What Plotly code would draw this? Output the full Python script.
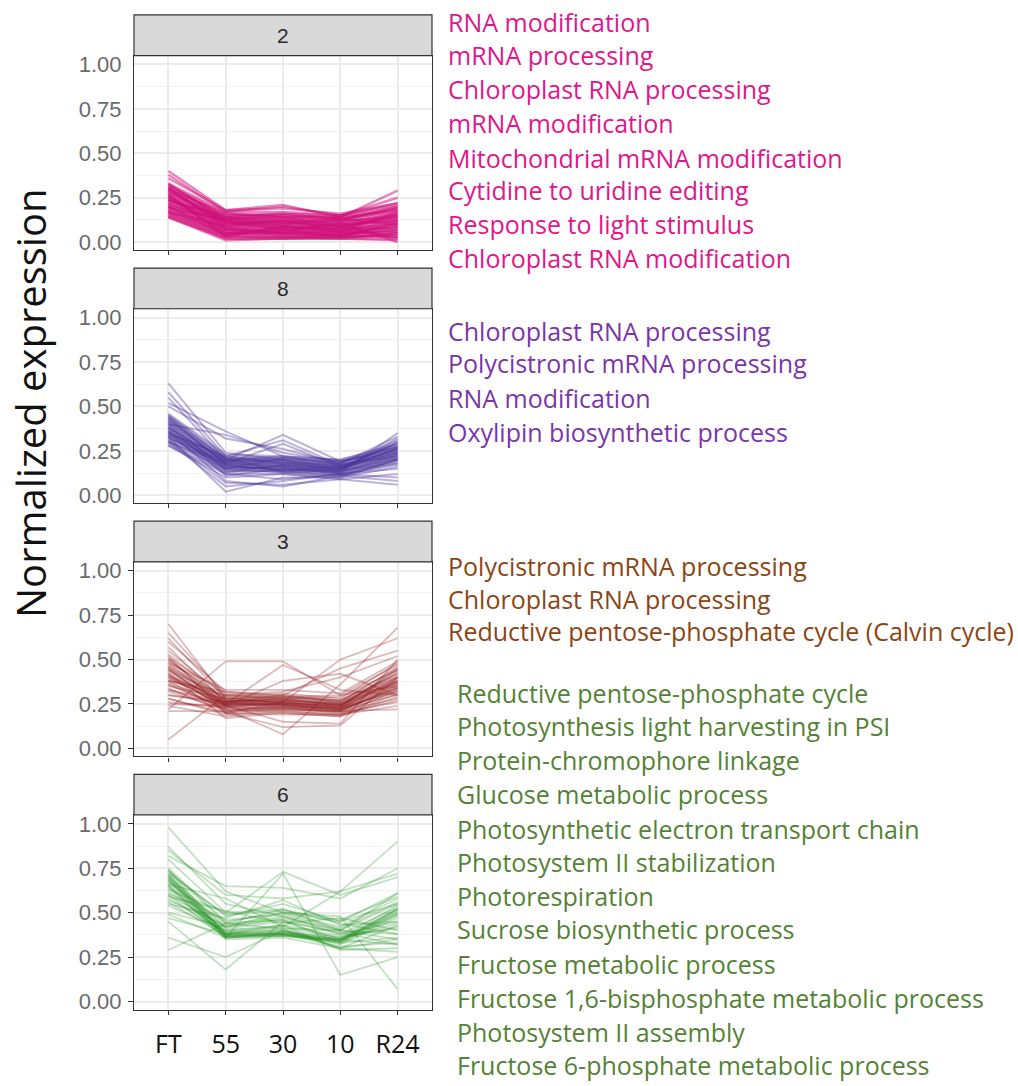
import plotly.graph_objects as go

# ---------------- data ----------------
conditions = ["FT", "55", "30", "10", "R24"]
cluster_ids = ["2", "8", "3", "6"]

cluster2_profiles = [
    [0.40, 0.18, 0.21, 0.14, 0.29], [0.38, 0.17, 0.20, 0.15, 0.25], [0.36, 0.18, 0.19, 0.16, 0.22],
    [0.33, 0.17, 0.17, 0.15, 0.21], [0.32, 0.16, 0.15, 0.14, 0.20], [0.31, 0.15, 0.16, 0.13, 0.19],
    [0.30, 0.16, 0.14, 0.14, 0.18], [0.30, 0.14, 0.13, 0.12, 0.20], [0.29, 0.13, 0.14, 0.13, 0.17],
    [0.28, 0.14, 0.12, 0.11, 0.16], [0.28, 0.12, 0.13, 0.12, 0.18], [0.27, 0.13, 0.11, 0.10, 0.15],
    [0.26, 0.11, 0.12, 0.11, 0.16], [0.26, 0.12, 0.10, 0.09, 0.14], [0.25, 0.10, 0.11, 0.10, 0.13],
    [0.24, 0.11, 0.09, 0.08, 0.15], [0.24, 0.09, 0.10, 0.09, 0.12], [0.23, 0.10, 0.08, 0.08, 0.13],
    [0.22, 0.08, 0.09, 0.07, 0.11], [0.22, 0.09, 0.07, 0.08, 0.10], [0.21, 0.07, 0.08, 0.06, 0.12],
    [0.20, 0.08, 0.06, 0.07, 0.09], [0.20, 0.06, 0.07, 0.05, 0.10], [0.19, 0.07, 0.05, 0.06, 0.08],
    [0.18, 0.05, 0.06, 0.05, 0.07], [0.18, 0.06, 0.04, 0.04, 0.09], [0.17, 0.04, 0.05, 0.05, 0.06],
    [0.17, 0.05, 0.04, 0.03, 0.05], [0.16, 0.03, 0.03, 0.04, 0.07], [0.16, 0.04, 0.03, 0.03, 0.04],
    [0.15, 0.02, 0.02, 0.03, 0.03], [0.15, 0.03, 0.03, 0.02, 0.05], [0.14, 0.02, 0.02, 0.02, 0.02],
    [0.14, 0.01, 0.02, 0.02, 0.01], [0.25, 0.05, 0.06, 0.11, 0.00], [0.31, 0.08, 0.05, 0.04, 0.03],
    [0.19, 0.13, 0.11, 0.13, 0.19], [0.27, 0.03, 0.09, 0.06, 0.17], [0.33, 0.12, 0.07, 0.03, 0.11],
    [0.23, 0.15, 0.14, 0.09, 0.02], [0.29, 0.10, 0.12, 0.07, 0.08], [0.21, 0.12, 0.10, 0.12, 0.14],
    [0.32, 0.14, 0.16, 0.15, 0.22], [0.26, 0.07, 0.05, 0.04, 0.06], [0.20, 0.04, 0.08, 0.10, 0.12],
    [0.30, 0.11, 0.09, 0.06, 0.04], [0.17, 0.09, 0.12, 0.09, 0.15], [0.24, 0.13, 0.15, 0.13, 0.10],
]

cluster8_profiles = [
    [0.63, 0.24, 0.20, 0.16, 0.26], [0.58, 0.22, 0.18, 0.15, 0.30], [0.55, 0.20, 0.22, 0.17, 0.24],
    [0.52, 0.36, 0.22, 0.20, 0.28], [0.50, 0.32, 0.26, 0.18, 0.33], [0.40, 0.34, 0.24, 0.19, 0.25],
    [0.38, 0.20, 0.34, 0.19, 0.27], [0.35, 0.22, 0.31, 0.17, 0.22], [0.42, 0.18, 0.29, 0.16, 0.29],
    [0.33, 0.02, 0.10, 0.10, 0.20], [0.30, 0.05, 0.08, 0.12, 0.15], [0.36, 0.08, 0.05, 0.11, 0.08],
    [0.31, 0.07, 0.06, 0.09, 0.06], [0.34, 0.12, 0.09, 0.12, 0.10], [0.28, 0.10, 0.12, 0.09, 0.12],
    [0.46, 0.23, 0.22, 0.20, 0.29], [0.45, 0.22, 0.21, 0.19, 0.27], [0.44, 0.21, 0.20, 0.18, 0.28],
    [0.43, 0.20, 0.21, 0.19, 0.26], [0.42, 0.21, 0.19, 0.17, 0.25], [0.41, 0.19, 0.20, 0.18, 0.27],
    [0.40, 0.20, 0.18, 0.16, 0.24], [0.39, 0.18, 0.19, 0.17, 0.25], [0.38, 0.19, 0.17, 0.15, 0.23],
    [0.37, 0.17, 0.18, 0.16, 0.24], [0.36, 0.18, 0.16, 0.14, 0.22], [0.35, 0.16, 0.17, 0.15, 0.21],
    [0.34, 0.17, 0.15, 0.13, 0.23], [0.33, 0.15, 0.16, 0.14, 0.20], [0.32, 0.16, 0.14, 0.12, 0.19],
    [0.31, 0.14, 0.15, 0.13, 0.21], [0.30, 0.15, 0.13, 0.11, 0.18], [0.29, 0.13, 0.14, 0.12, 0.17],
    [0.28, 0.12, 0.12, 0.10, 0.16], [0.40, 0.14, 0.13, 0.14, 0.32], [0.37, 0.13, 0.17, 0.13, 0.35],
    [0.44, 0.17, 0.14, 0.15, 0.30], [0.35, 0.21, 0.13, 0.11, 0.20], [0.32, 0.19, 0.20, 0.15, 0.26],
    [0.30, 0.18, 0.16, 0.16, 0.22], [0.39, 0.11, 0.15, 0.14, 0.18], [0.36, 0.15, 0.21, 0.18, 0.31],
    [0.43, 0.18, 0.17, 0.15, 0.24], [0.38, 0.16, 0.15, 0.13, 0.21], [0.34, 0.19, 0.18, 0.17, 0.26],
    [0.41, 0.15, 0.16, 0.12, 0.20], [0.33, 0.17, 0.14, 0.16, 0.23], [0.45, 0.20, 0.19, 0.14, 0.27],
]

cluster3_profiles = [
    [0.70, 0.28, 0.26, 0.23, 0.45], [0.05, 0.30, 0.28, 0.25, 0.38], [0.22, 0.49, 0.49, 0.30, 0.35],
    [0.30, 0.25, 0.47, 0.33, 0.30], [0.36, 0.22, 0.08, 0.36, 0.68], [0.28, 0.20, 0.26, 0.50, 0.62],
    [0.33, 0.26, 0.30, 0.45, 0.55], [0.40, 0.24, 0.15, 0.14, 0.50], [0.45, 0.20, 0.12, 0.13, 0.40],
    [0.25, 0.24, 0.38, 0.42, 0.30], [0.38, 0.30, 0.32, 0.40, 0.52],
    [0.65, 0.30, 0.27, 0.25, 0.42], [0.62, 0.28, 0.29, 0.27, 0.45], [0.60, 0.32, 0.30, 0.26, 0.40],
    [0.57, 0.26, 0.28, 0.24, 0.38], [0.55, 0.29, 0.31, 0.28, 0.48], [0.53, 0.27, 0.26, 0.23, 0.36],
    [0.51, 0.31, 0.28, 0.29, 0.44], [0.50, 0.25, 0.25, 0.22, 0.34], [0.49, 0.28, 0.30, 0.27, 0.42],
    [0.48, 0.24, 0.27, 0.25, 0.39], [0.47, 0.27, 0.24, 0.21, 0.35], [0.46, 0.26, 0.29, 0.26, 0.46],
    [0.45, 0.23, 0.26, 0.24, 0.37], [0.44, 0.29, 0.25, 0.22, 0.33], [0.43, 0.25, 0.28, 0.27, 0.41],
    [0.42, 0.22, 0.23, 0.20, 0.32], [0.41, 0.27, 0.27, 0.25, 0.38], [0.40, 0.24, 0.22, 0.21, 0.36],
    [0.39, 0.26, 0.26, 0.24, 0.43], [0.38, 0.21, 0.24, 0.22, 0.30], [0.37, 0.25, 0.25, 0.23, 0.35],
    [0.36, 0.23, 0.21, 0.19, 0.33], [0.35, 0.28, 0.27, 0.26, 0.40], [0.34, 0.20, 0.23, 0.21, 0.28],
    [0.33, 0.24, 0.24, 0.22, 0.34], [0.32, 0.22, 0.20, 0.18, 0.31], [0.30, 0.26, 0.25, 0.24, 0.37],
    [0.28, 0.19, 0.22, 0.20, 0.26], [0.26, 0.23, 0.23, 0.23, 0.32], [0.24, 0.18, 0.21, 0.19, 0.24],
    [0.21, 0.21, 0.22, 0.21, 0.22], [0.48, 0.33, 0.33, 0.31, 0.49], [0.42, 0.17, 0.20, 0.18, 0.29],
    [0.52, 0.20, 0.19, 0.19, 0.27], [0.38, 0.32, 0.29, 0.30, 0.47], [0.46, 0.25, 0.24, 0.22, 0.40],
    [0.50, 0.27, 0.26, 0.24, 0.44], [0.44, 0.24, 0.25, 0.23, 0.37], [0.41, 0.26, 0.23, 0.21, 0.34],
]

cluster6_profiles = [
    [0.98, 0.62, 0.50, 0.45, 0.55], [0.87, 0.55, 0.48, 0.40, 0.61], [0.85, 0.60, 0.58, 0.62, 0.90],
    [0.82, 0.65, 0.64, 0.58, 0.75], [0.80, 0.50, 0.73, 0.60, 0.70], [0.29, 0.44, 0.52, 0.40, 0.35],
    [0.36, 0.25, 0.40, 0.30, 0.28], [0.45, 0.18, 0.45, 0.35, 0.32], [0.49, 0.36, 0.72, 0.15, 0.25],
    [0.60, 0.42, 0.50, 0.48, 0.07], [0.66, 0.58, 0.42, 0.62, 0.72],
    [0.75, 0.45, 0.50, 0.42, 0.58], [0.74, 0.38, 0.39, 0.35, 0.52], [0.73, 0.48, 0.55, 0.45, 0.61],
    [0.72, 0.37, 0.38, 0.34, 0.51], [0.71, 0.42, 0.47, 0.40, 0.55], [0.70, 0.36, 0.37, 0.33, 0.49],
    [0.69, 0.38, 0.39, 0.35, 0.50], [0.68, 0.37, 0.38, 0.34, 0.50], [0.67, 0.44, 0.46, 0.38, 0.45],
    [0.66, 0.36, 0.38, 0.33, 0.48], [0.65, 0.40, 0.42, 0.36, 0.42], [0.64, 0.37, 0.37, 0.34, 0.52],
    [0.63, 0.50, 0.52, 0.44, 0.38], [0.62, 0.38, 0.40, 0.32, 0.47], [0.61, 0.46, 0.49, 0.41, 0.56],
    [0.60, 0.36, 0.39, 0.35, 0.44], [0.59, 0.51, 0.44, 0.47, 0.40], [0.58, 0.39, 0.41, 0.30, 0.35],
    [0.57, 0.43, 0.48, 0.38, 0.53], [0.56, 0.37, 0.38, 0.31, 0.33], [0.55, 0.47, 0.57, 0.43, 0.45],
    [0.54, 0.40, 0.43, 0.37, 0.41], [0.70, 0.41, 0.45, 0.39, 0.32], [0.72, 0.49, 0.51, 0.46, 0.59],
    [0.65, 0.35, 0.36, 0.30, 0.43], [0.69, 0.39, 0.40, 0.36, 0.54], [0.74, 0.44, 0.41, 0.40, 0.38],
    [0.50, 0.42, 0.46, 0.33, 0.36], [0.47, 0.38, 0.43, 0.29, 0.30], [0.68, 0.36, 0.37, 0.35, 0.52],
    [0.71, 0.38, 0.38, 0.34, 0.49],
]

cluster2_terms = ["RNA modification", "mRNA processing", "Chloroplast RNA processing",
                  "mRNA modification", "Mitochondrial mRNA modification",
                  "Cytidine to uridine editing", "Response to light stimulus",
                  "Chloroplast RNA modification"]
cluster8_terms = ["Chloroplast RNA processing", "Polycistronic mRNA processing",
                  "RNA modification", "Oxylipin biosynthetic process"]
cluster3_terms = ["Polycistronic mRNA processing", "Chloroplast RNA processing",
                  "Reductive pentose-phosphate cycle (Calvin cycle)"]
cluster6_terms = ["Reductive pentose-phosphate cycle", "Photosynthesis light harvesting in PSI",
                  "Protein-chromophore linkage", "Glucose metabolic process",
                  "Photosynthetic electron transport chain", "Photosystem II stabilization",
                  "Photorespiration", "Sucrose biosynthetic process", "Fructose metabolic process",
                  "Fructose 1,6-bisphosphate metabolic process", "Photosystem II assembly",
                  "Fructose 6-phosphate metabolic process"]

y_ticks = [0, 0.25, 0.5, 0.75, 1.0]

# ---------------- styling ----------------
W, H = 1018, 1086
line_colors = ["rgba(208,14,122,0.50)", "rgba(75,55,155,0.38)",
               "rgba(145,28,30,0.30)", "rgba(30,145,30,0.27)"]
line_widths = [2.4, 2.0, 1.8, 1.8]
text_colors = ["#E0168C", "#7A35A8", "#8B4513", "#548235"]
profiles = [cluster2_profiles, cluster8_profiles, cluster3_profiles, cluster6_profiles]
terms = [cluster2_terms, cluster8_terms, cluster3_terms, cluster6_terms]

panel_tops = [53, 308, 563, 818]
panel_h = 196
strip_h = 41
x_left, x_right = 134, 432
TEXT_FONT = "Open Sans"

term_y = [
    [19, 52, 87, 121, 156, 188, 223, 257],
    [330, 363, 398, 432],
    [567, 600, 633],
    [695, 728, 763, 797, 832, 865, 900, 933, 968, 1002, 1037, 1070],
]
term_x = [446, 446, 446, 455]

fig = go.Figure()
layout = dict(
    width=W, height=H,
    margin=dict(l=0, r=0, t=0, b=0),
    paper_bgcolor="white", plot_bgcolor="white",
    showlegend=False,
)
shapes = []
annotations = []

for i in range(4):
    sx = "" if i == 0 else str(i + 1)
    for prof in profiles[i]:
        fig.add_trace(go.Scatter(
            x=conditions, y=prof, mode="lines",
            line=dict(color=line_colors[i], width=line_widths[i]),
            xaxis="x" + sx, yaxis="y" + sx, hoverinfo="skip", showlegend=False))

    top = panel_tops[i]
    bottom = top + panel_h
    ydom = [1 - bottom / H, 1 - top / H]
    xdom = [x_left / W, x_right / W]
    last = (i == 3)
    has_yticks = i >= 2
    layout["xaxis" + sx] = dict(
        domain=xdom, anchor="y" + sx, type="category",
        categoryorder="array", categoryarray=conditions,
        range=[-0.6, 4.6], showgrid=True, gridcolor="#EBEBEB", gridwidth=1.5,
        showline=True, mirror=True, linecolor="#333333", linewidth=1.2,
        ticks="outside", ticklen=4, tickcolor="#333333",
        showticklabels=last, zeroline=False, ticklabelstandoff=8,
        tickfont=dict(family=TEXT_FONT, size=25, color="#111111"),
    )
    layout["yaxis" + sx] = dict(
        domain=ydom, anchor="x" + sx, range=[-0.045, 1.05],
        tickvals=y_ticks, tickformat=".2f",
        showgrid=True, gridcolor="#EBEBEB", gridwidth=1.5,
        minor=dict(dtick=0.125, tick0=0, showgrid=True, gridcolor="#F2F2F2", gridwidth=1),
        showline=True, mirror=True, linecolor="#333333", linewidth=1.2,
        ticks="outside" if has_yticks else "", ticklen=5, tickcolor="#333333",
        ticklabelstandoff=(2 if has_yticks else 7),
        zeroline=False,
        tickfont=dict(family="Liberation Sans, Arial", size=22, color="#6B6B6B"),
    )
    # strip
    shapes.append(dict(type="rect", xref="paper", yref="paper",
                       x0=x_left / W, x1=x_right / W,
                       y0=1 - top / H, y1=1 - (top - strip_h) / H,
                       fillcolor="#D9D9D9", line=dict(color="#333333", width=1.2), layer="above"))
    annotations.append(dict(text=cluster_ids[i], xref="paper", yref="paper",
                            x=(x_left + x_right) / 2 / W, y=1 - (top - strip_h / 2) / H,
                            xanchor="center", yanchor="middle", showarrow=False,
                            font=dict(family="Liberation Sans, Arial", size=21, color="#2B2B2B")))
    # GO terms
    for t, yy in zip(terms[i], term_y[i]):
        annotations.append(dict(text=t, xref="paper", yref="paper",
                                x=term_x[i] / W, y=1 - yy / H,
                                xanchor="left", yanchor="middle", showarrow=False,
                                font=dict(family=TEXT_FONT, size=25, color=text_colors[i])))

annotations.append(dict(text="Normalized expression", xref="paper", yref="paper",
                        x=30 / W, y=1 - 403 / H, textangle=-90,
                        xanchor="center", yanchor="middle", showarrow=False,
                        font=dict(family=TEXT_FONT, size=40, color="#111111")))

layout["shapes"] = shapes
layout["annotations"] = annotations
fig.update_layout(**layout)
fig.write_html("out.html")
